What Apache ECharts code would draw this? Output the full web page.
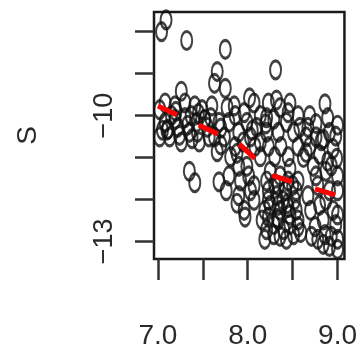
<!DOCTYPE html>
<html>
<head>
<meta charset="utf-8">
<script src="https://cdn.jsdelivr.net/npm/echarts@6/dist/echarts.min.js"></script>
<style>html,body{margin:0;padding:0;background:#fff}#c{width:360px;height:350px}</style>
</head>
<body>
<div id="c"></div>
<script>
// scatter x values (numbers on the x axis)
var xVals = [
  7.09, 7.04, 7.32, 7.75, 7.66, 7.63, 7.75, 7.26, 8.31, 8.86,
  7.02, 7.08, 7.15, 7.22, 7.02, 7.13, 7.30, 7.35, 7.43, 7.49,
  7.55, 7.59, 7.46, 7.26, 7.63, 7.41, 7.19, 7.66, 7.35, 7.41,
  7.68, 7.76, 7.90, 7.96, 7.97, 7.81, 7.90, 8.01, 8.07, 7.85,
  7.96, 8.07, 8.14, 7.79, 7.90, 8.03, 8.14, 7.74, 7.77, 7.99,
  8.10, 8.07, 8.23, 8.36, 8.47, 8.56, 8.29, 8.43, 8.21, 8.25,
  8.36, 8.47, 8.56, 8.23, 8.32, 8.42, 8.52, 8.25, 8.36, 8.47,
  8.56, 8.29, 8.40, 8.51, 8.29, 8.59, 8.19, 8.16, 8.45, 8.56,
  8.30, 8.39, 8.34, 8.50, 8.67, 8.76, 8.91, 9.00, 8.69, 8.80,
  8.95, 8.99, 8.73, 8.87, 9.00, 8.78, 8.91, 8.67, 8.80, 8.95,
  8.84, 8.98, 8.75, 8.86, 9.00, 8.78, 8.91, 8.69, 8.65, 8.89,
  7.10, 7.20, 7.38, 7.52, 7.70, 7.88, 8.05, 8.20, 8.33, 8.44,
  8.62, 8.82, 8.93, 7.05, 7.45,
  7.08, 7.30, 7.11, 7.24, 7.37, 7.52, 7.57, 7.44, 7.33, 7.19,
  7.68, 7.70, 7.60, 7.86, 8.02, 7.95, 8.08, 7.86, 7.79, 7.99,
  8.03, 7.92, 7.88, 8.14, 8.21, 8.30, 8.45, 8.54, 8.23, 8.34,
  8.45, 8.54, 8.23, 8.34, 8.47, 8.36, 8.21, 8.56, 8.43, 8.19,
  8.32, 8.45, 8.21, 8.34, 8.51, 8.58, 8.23, 8.37, 8.76, 8.84,
  8.98, 8.65, 8.89, 8.76, 9.00, 8.70, 8.87, 9.00, 8.71, 8.93,
  8.84, 9.00
];
// scatter y values (S)
var yVals = [
  -7.72, -8.00, -8.21, -8.42, -8.95, -9.23, -9.35, -9.42, -8.91, -9.72,
  -9.86, -10.16, -10.00, -10.28, -10.51, -10.51, -10.05, -10.40, -10.16, -9.86,
  -10.28, -10.05, -10.63, -10.63, -10.51, -9.77, -9.77, -10.86, -11.33, -11.60,
  -11.58, -11.79, -11.91, -12.26, -12.42, -10.98, -11.21, -11.44, -11.67, -9.77,
  -9.93, -9.70, -10.00, -10.16, -10.40, -10.51, -10.63, -10.51, -9.81, -10.16,
  -10.28, -12.02, -9.70, -9.81, -9.70, -10.00, -10.09, -10.16, -10.40, -11.33,
  -11.44, -11.26, -11.56, -11.79, -11.91, -11.79, -12.02, -12.14, -12.26, -12.37,
  -12.49, -12.60, -12.72, -12.84, -12.84, -12.79, -12.26, -12.49, -10.98, -10.74,
  -10.98, -12.02, -11.67, -11.67, -10.28, -10.51, -10.40, -10.23, -10.74, -10.93,
  -10.79, -11.02, -11.21, -11.33, -11.44, -11.67, -11.79, -11.91, -12.14, -12.26,
  -12.49, -12.60, -12.65, -12.84, -12.95, -12.95, -13.12, -10.00, -10.51, -10.05,
  -10.35, -9.90, -10.55, -10.10, -10.30, -10.90, -10.35, -10.20, -12.45, -12.10,
  -11.00, -10.60, -11.20, -10.35, -9.95,
  -9.70, -9.70, -10.33, -10.47, -10.00, -10.09, -10.51, -10.40, -10.23, -10.09,
  -10.16, -10.70, -9.77, -10.00, -9.58, -10.63, -10.74, -10.74, -11.44, -11.21,
  -11.79, -11.56, -12.09, -10.98, -11.56, -11.63, -11.56, -11.79, -12.02, -12.14,
  -12.19, -12.26, -12.42, -12.49, -12.60, -12.88, -12.72, -12.65, -12.95, -12.95,
  -9.63, -9.93, -10.05, -10.40, -10.40, -10.28, -10.74, -10.74, -10.19, -10.56,
  -10.49, -10.88, -11.09, -11.44, -11.79, -12.26, -12.02, -12.37, -12.88, -12.88,
  -13.07, -13.19
];
// red dashed trend line
var trendX = [7.0, 7.9, 8.3, 9.0];
var trendY = [-9.77, -10.67, -11.45, -11.91];
// axis ticks and labels
var xTicks = [7.0, 7.5, 8.0, 8.5, 9.0];
var xLabels = [7.0, 8.0, 9.0];
var yTicks = [-8, -9, -10, -11, -12, -13];
var yLabels = [-10, -13];

var pts = xVals.map(function (x, i) { return [x, yVals[i]]; });
var trend = trendX.map(function (x, i) { return [x, trendY[i]]; });

var chart = echarts.init(document.getElementById('c'), null, { renderer: 'canvas' });
chart.setOption({
  animation: false,
  backgroundColor: '#fff',
  grid: { left: 154, right: 13, top: 12, bottom: 85, show: true, borderColor: '#1a1a1a', borderWidth: 2.5, backgroundColor: 'transparent' },
  xAxis: {
    type: 'value', min: 6.956, max: 9.077,
    axisLine: { show: false },
    splitLine: { show: false },
    axisTick: { show: true, length: 21, inside: false, customValues: xTicks, lineStyle: { color: '#333', width: 2.5 } },
    axisLabel: { customValues: xLabels, margin: 63, fontSize: 28, color: '#2a2a2a', fontFamily: 'Liberation Sans, Arial, sans-serif',
      formatter: function (v) { return v.toFixed(1); } }
  },
  yAxis: {
    type: 'value', min: -13.42, max: -7.53,
    name: 'S', nameLocation: 'middle', nameRotate: 90, nameGap: 112,
    nameTextStyle: { fontSize: 28, color: '#2a2a2a', fontFamily: 'Liberation Sans, Arial, sans-serif' },
    axisLine: { show: false },
    splitLine: { show: false },
    axisTick: { show: true, length: 19, customValues: yTicks, lineStyle: { color: '#333', width: 2.5 } },
    axisLabel: { customValues: yLabels, rotate: 90, margin: 36, fontSize: 27, color: '#2a2a2a', fontFamily: 'Liberation Sans, Arial, sans-serif',
      formatter: function (v) { return (v < 0 ? '\u2212' : '') + Math.abs(v); } }
  },
  series: [
    {
      type: 'scatter', data: pts,
      symbol: 'path://M6,0 C9.3,0 12,4 12,9 C12,14 9.3,18 6,18 C2.7,18 0,14 0,9 C0,4 2.7,0 6,0 Z',
      symbolSize: [11, 18],
      symbolKeepAspect: false,
      itemStyle: { color: 'transparent', borderColor: '#111', borderWidth: 2.5 },
      z: 2
    },
    {
      type: 'line', data: trend, symbol: 'none', z: 3,
      lineStyle: { color: '#ff0000', width: 5, type: [21, 24], cap: 'butt' }
    }
  ]
});
</script>
</body>
</html>
